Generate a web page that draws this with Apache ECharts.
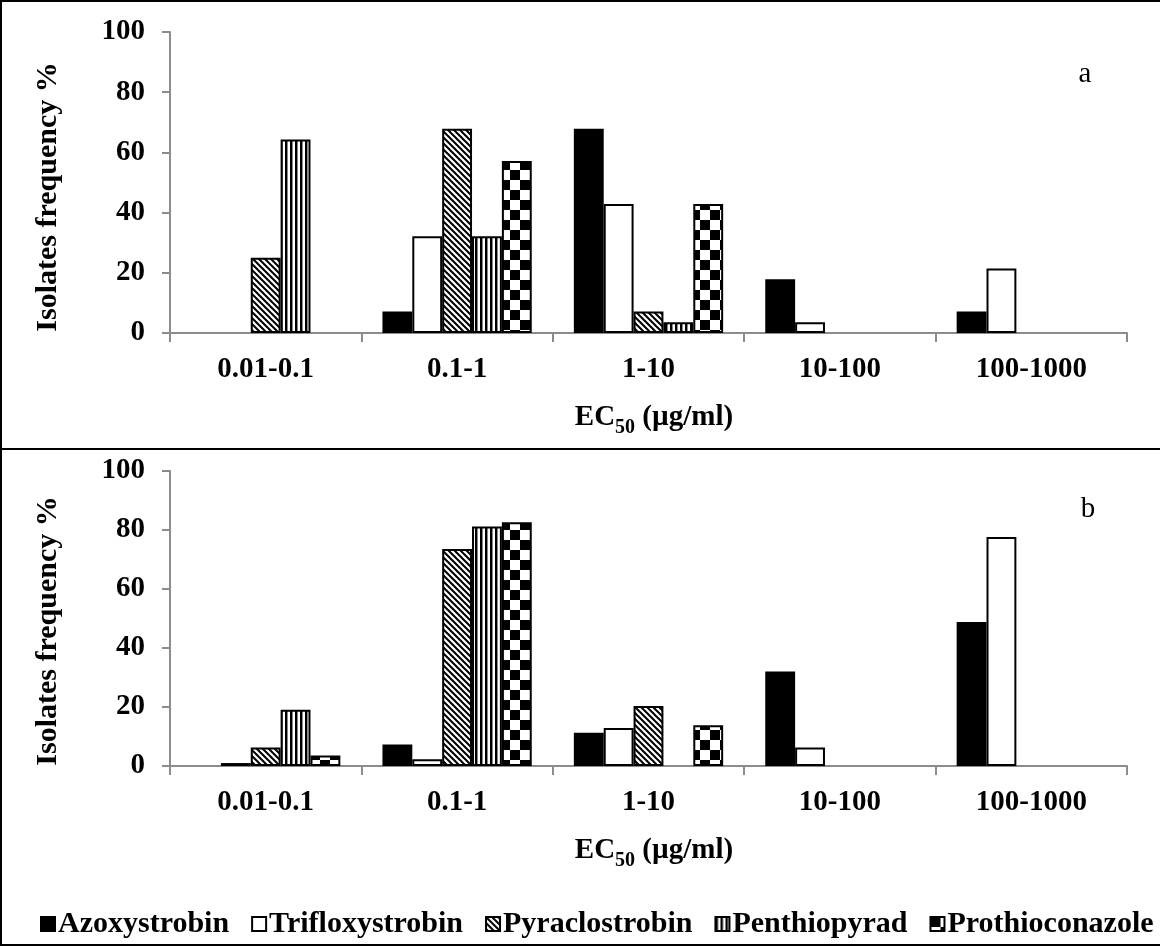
<!DOCTYPE html>
<html>
<head>
<meta charset="utf-8">
<script src="https://cdn.jsdelivr.net/npm/echarts@6/dist/echarts.min.js"></script>
<style>
  html, body { margin: 0; padding: 0; background: #fff; }
  #chart { width: 1160px; height: 946px; }
</style>
</head>
<body>
<div id="chart"></div>
<script>
// ---- data ----
const categories = ['0.01-0.1', '0.1-1', '1-10', '10-100', '100-1000'];
const seriesNames = ['Azoxystrobin', 'Trifloxystrobin', 'Pyraclostrobin', 'Penthiopyrad', 'Prothioconazole'];
const yTicks = [0, 20, 40, 60, 80, 100];

// Panel a
const a_azoxystrobin    = [0, 7.14, 67.86, 17.86, 7.14];
const a_trifloxystrobin = [0, 32.14, 42.86, 3.57, 21.43];
const a_pyraclostrobin  = [25.0, 67.86, 7.14, 0, 0];
const a_penthiopyrad    = [64.29, 32.14, 3.57, 0, 0];
const a_prothioconazole = [0, 57.14, 42.86, 0, 0];

// Panel b
const b_azoxystrobin    = [0, 7.3, 11.3, 32.0, 48.8];
const b_trifloxystrobin = [1.0, 2.3, 12.9, 6.3, 77.6];
const b_pyraclostrobin  = [6.3, 73.6, 20.3, 0, 0];
const b_penthiopyrad    = [19.1, 81.2, 0, 0, 0];
const b_prothioconazole = [3.6, 82.6, 13.8, 0, 0];

// ---- patterns ----
function tile(w, h, draw) {
  const c = document.createElement('canvas');
  c.width = w; c.height = h;
  const ctx = c.getContext('2d');
  ctx.fillStyle = '#fff';
  ctx.fillRect(0, 0, w, h);
  draw(ctx);
  return { image: c, repeat: 'repeat' };
}
const fillSolid = '#000';
const fillWhite = '#fff';
const fillDiag = tile(6, 6, ctx => {
  ctx.strokeStyle = '#000';
  ctx.lineWidth = 2;
  ctx.beginPath();
  ctx.moveTo(-1, -1); ctx.lineTo(7, 7);
  ctx.moveTo(-1, 5); ctx.lineTo(1, 7);
  ctx.moveTo(5, -1); ctx.lineTo(7, 1);
  ctx.stroke();
});
const fillVert = tile(5, 5, ctx => {
  ctx.fillStyle = '#000';
  ctx.fillRect(0, 0, 2, 5);
  ctx.fillStyle = '#888';
  ctx.fillRect(2, 0, 1, 5);
});
const fillCheck = tile(20, 20, ctx => {
  ctx.fillStyle = '#000';
  ctx.fillRect(0, 0, 10, 10);
  ctx.fillRect(10, 10, 10, 10);
});
const fills = [fillSolid, fillWhite, fillDiag, fillVert, fillCheck];

const dataA = [a_azoxystrobin, a_trifloxystrobin, a_pyraclostrobin, a_penthiopyrad, a_prothioconazole];
const dataB = [b_azoxystrobin, b_trifloxystrobin, b_pyraclostrobin, b_penthiopyrad, b_prothioconazole];

const FONT = '"Liberation Serif", "Times New Roman", serif';
const axisGray = '#8c8c8c';

function makeGrid(top, height) {
  return { left: 170, top: top, width: 957, height: height, containLabel: false };
}
function makeX(gi) {
  return {
    type: 'category', gridIndex: gi, data: categories,
    axisLine: { show: true, lineStyle: { color: axisGray, width: 2 } },
    axisTick: { show: true, length: 9, lineStyle: { color: axisGray, width: 2 } },
    axisLabel: { color: '#000', fontFamily: FONT, fontWeight: 'bold', fontSize: 29, margin: 22 },
    splitLine: { show: false }
  };
}
function makeY(gi) {
  return {
    type: 'value', gridIndex: gi, min: 0, max: 100, interval: 20,
    axisLine: { show: true, lineStyle: { color: axisGray, width: 2 } },
    axisTick: { show: true, length: 8, lineStyle: { color: axisGray, width: 2 } },
    axisLabel: { color: '#000', fontFamily: FONT, fontWeight: 'bold', fontSize: 29, margin: 25,
      formatter: v => yTicks.includes(v) ? String(v) : '' },
    splitLine: { show: false }
  };
}

const series = [];
[dataA, dataB].forEach((panel, gi) => {
  panel.forEach((vals, si) => {
    series.push({
      type: 'bar', name: seriesNames[si],
      xAxisIndex: gi, yAxisIndex: gi,
      data: vals.map(v => v === 0 ? null : v),
      barGap: '0%', barCategoryGap: '22%',
      itemStyle: { color: fills[si], borderColor: '#000', borderWidth: 2 },
      emphasis: { disabled: true },
      animation: false
    });
  });
});

const richTitle = {
  m: { fontFamily: FONT, fontWeight: 'bold', fontSize: 29, lineHeight: 29, verticalAlign: 'top', fill: '#000' },
  s: { fontFamily: FONT, fontWeight: 'bold', fontSize: 20, lineHeight: 20, verticalAlign: 'top', padding: [15, 0, 0, 0], fill: '#000' }
};

const chart = echarts.init(document.getElementById('chart'), null, { renderer: 'canvas' });
chart.setOption({
  backgroundColor: '#fff',
  animation: false,
  grid: [makeGrid(32, 301), makeGrid(471, 295)],
  xAxis: [makeX(0), makeX(1)],
  yAxis: [makeY(0), makeY(1)],
  legend: {
    data: seriesNames,
    orient: 'horizontal',
    left: 40, top: 909, width: 1400,
    padding: 0,
    itemWidth: 14, itemHeight: 14, itemGap: 22,
    icon: 'rect',
    textStyle: { fontFamily: FONT, fontWeight: 'bold', fontSize: 30, color: '#000', padding: [0, 0, 0, -2] },
    selectedMode: false
  },
  series: series,
  graphic: [
    { type: 'rect', shape: { x: 1, y: 1, width: 1170, height: 448 }, style: { fill: 'none', stroke: '#000', lineWidth: 2 }, z: 100 },
    { type: 'rect', shape: { x: 1, y: 449, width: 1170, height: 496 }, style: { fill: 'none', stroke: '#000', lineWidth: 2 }, z: 100 },
    { type: 'text', x: 48, y: 197, rotation: Math.PI / 2,
      style: { text: 'Isolates frequency %', fontFamily: FONT, fontWeight: 'bold', fontSize: 30, fill: '#000', align: 'center', verticalAlign: 'middle' } },
    { type: 'text', x: 48, y: 631, rotation: Math.PI / 2,
      style: { text: 'Isolates frequency %', fontFamily: FONT, fontWeight: 'bold', fontSize: 30, fill: '#000', align: 'center', verticalAlign: 'middle' } },
    { type: 'text', x: 654, y: 403,
      style: { text: '{m|EC}{s|50}{m| (µg/ml)}', rich: richTitle, align: 'center', verticalAlign: 'top' } },
    { type: 'text', x: 654, y: 836,
      style: { text: '{m|EC}{s|50}{m| (µg/ml)}', rich: richTitle, align: 'center', verticalAlign: 'top' } },
    { type: 'text', x: 1085, y: 74,
      style: { text: 'a', fontFamily: FONT, fontSize: 29, fill: '#000', align: 'center', verticalAlign: 'middle' } },
    { type: 'text', x: 1088, y: 509,
      style: { text: 'b', fontFamily: FONT, fontSize: 29, fill: '#000', align: 'center', verticalAlign: 'middle' } }
  ]
});
</script>
</body>
</html>
